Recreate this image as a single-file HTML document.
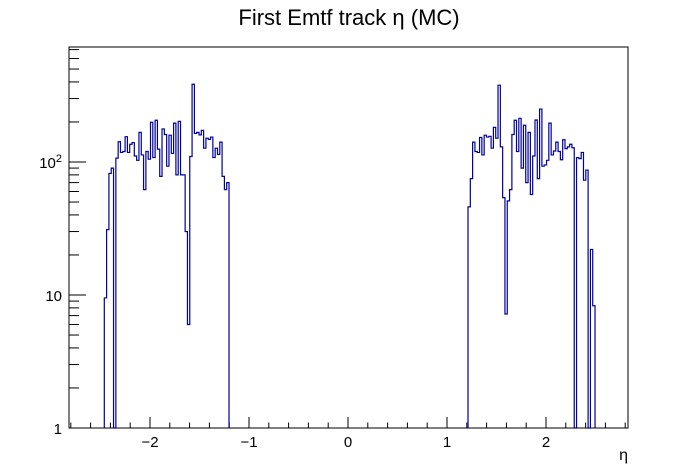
<!DOCTYPE html>
<html><head><meta charset="utf-8"><style>
body{margin:0;background:#fff;}
svg{display:block;font-family:"Liberation Sans",sans-serif;}
</style></head><body>
<svg id="chart" width="698" height="476" viewBox="0 0 698 476" xmlns="http://www.w3.org/2000/svg">
<rect width="698" height="476" fill="#fff"/>
<text x="349" y="25" font-size="22" text-anchor="middle">First Emtf track η (MC)</text>
<g id="axes"></g>
<g id="plot"></g>
<text x="628" y="460" font-size="16" text-anchor="end">η</text>
</svg>
<script>
const leftStart = -2.4616;
const rightStart = 1.2121;
const binWidth = 0.02333;
const leftValues = [9.5,31,82,90,0,107,142,118,120,155,118,136,140,111,103,167,113,62,
120,105,199,108,206,125,78,177,161,93,159,116,196,80,202,80,80,30,
6,110,384,164,167,160,173,127,151,148,154,108,127,114,141,78,62,70];
const rightValues = [46,75,141,120,118,153,113,159,154,156,127,182,151,378,130,54,7.2,51,
62,161,206,120,213,90,189,70,167,57,111,207,75,250,93,95,103,196,113,
121,141,120,104,147,126,130,136,128,0,108,106,118,73,87,0,22,8.3];
const xTicks = [-2,-1,0,1,2];
const xTickLabels = ["\u22122","\u22121","0","1","2"];
const yDecades = [1,10,100];
const yTickLabels = ["1","10","10²"];

const X0=69, X1=628, Y0=428, Y1=47;
const xMin=-2.8, xMax=2.8;
const yMinLog=0, yMaxLog=(Y0-Y1)/133;
function xs(v){return 348 + v*99;}
function ys(v){ if(v<=1) return Y0; return Y0 - Math.log10(v)*133; }
const NS="http://www.w3.org/2000/svg";
const axes=document.getElementById('axes');
const plot=document.getElementById('plot');
function mk(tag,attrs,parent){const e=document.createElementNS(NS,tag);for(const k in attrs)e.setAttribute(k,attrs[k]);parent.appendChild(e);return e;}

const frame=mk('rect',{x:X0,y:Y1,width:X1-X0,height:Y0-Y1,fill:'none',stroke:'#000','stroke-width':1},axes);



// x ticks
for(let k=-14;k<=14;k++){
  const v=k*0.2; const x=xs(v);
  if(x<X0||x>X1) continue;
  const major=Math.abs(v-Math.round(v))<1e-6;
  const t=mk('line',{x1:x,x2:x,y1:Y0,y2:Y0-(major?11:5.5),stroke:'#000','stroke-width':1},axes);
  
  
}
xTicks.forEach((v,i)=>{
  const t=mk('text',{x:xs(v),y:Y0+19,'font-size':15,'text-anchor':'middle'},axes);
  t.textContent=xTickLabels[i];
  
  
});
// y ticks
for(let d=0;d<3;d++){
  for(let m=1;m<=9;m++){
    const v=Math.pow(10,d)*m; const y=ys(v);
    if(y<Y1) continue;
    if(v===1) continue;
    const t=mk('line',{x1:X0,x2:X0+(m===1?17:10),y1:y,y2:y,stroke:'#000','stroke-width':1},axes);
    
    
  }
}
yDecades.forEach((v,i)=>{
  const t=mk('text',{x:62,y:ys(v)+6,'font-size':15,'text-anchor':'end'},axes);
  if(i===2){ t.textContent='10'; const s=mk('tspan',{dy:-6,'font-size':11},t); s.textContent='2'; }
  else t.textContent=yTickLabels[i];
  
  
});

function drawHist(start, vals, name){
  let d='M'+xs(start).toFixed(2)+','+Y0;
  vals.forEach((v,i)=>{
    const xl=xs(start+i*binWidth), xr=xs(start+(i+1)*binWidth);
    const y=ys(v);
    d+=' L'+xl.toFixed(2)+','+y.toFixed(2)+' L'+xr.toFixed(2)+','+y.toFixed(2);
  });
  d+=' L'+xs(start+vals.length*binWidth).toFixed(2)+','+Y0;
  const p=mk('path',{d:d,fill:'none',stroke:'#00009a','stroke-width':1.2},plot);
  
  
}
drawHist(leftStart,leftValues,'histogram-negative-eta');
drawHist(rightStart,rightValues,'histogram-positive-eta');
</script>
</body></html>
